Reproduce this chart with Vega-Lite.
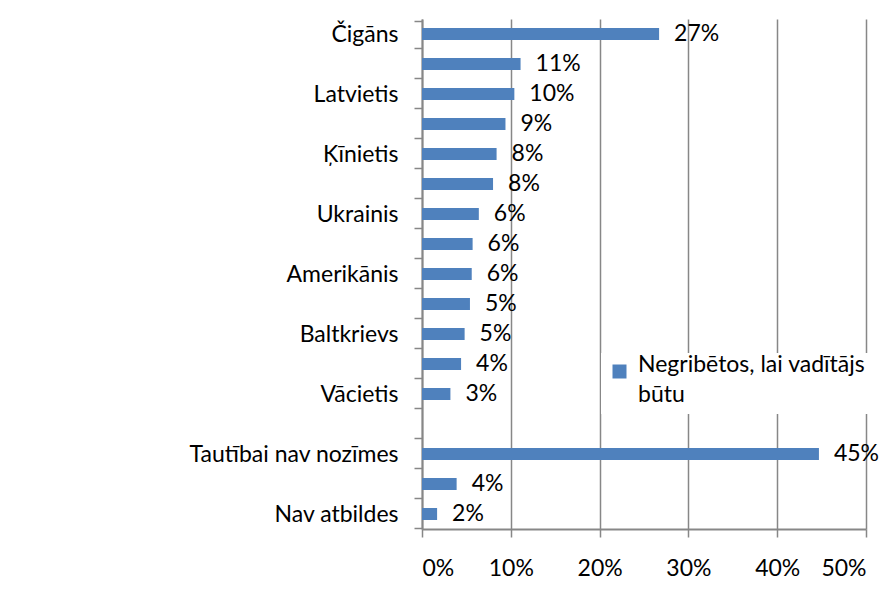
{
  "$schema": "https://vega.github.io/schema/vega-lite/v6.json",
  "autosize": "none",
  "width": 444,
  "height": 510,
  "padding": {"left": 422, "top": 19, "right": 24, "bottom": 82},
  "background": "white",
  "data": {
    "values": [
      {"kategorija": "Čigāns", "vertiba": 0.267, "nr": 0},
      {"kategorija": "Krievs", "vertiba": 0.111, "nr": 1},
      {"kategorija": "Latvietis", "vertiba": 0.104, "nr": 2},
      {"kategorija": "Lietuvietis", "vertiba": 0.094, "nr": 3},
      {"kategorija": "Ķīnietis", "vertiba": 0.084, "nr": 4},
      {"kategorija": "Igaunis", "vertiba": 0.080, "nr": 5},
      {"kategorija": "Ukrainis", "vertiba": 0.064, "nr": 6},
      {"kategorija": "Polis", "vertiba": 0.057, "nr": 7},
      {"kategorija": "Amerikānis", "vertiba": 0.056, "nr": 8},
      {"kategorija": "Ebrejs", "vertiba": 0.054, "nr": 9},
      {"kategorija": "Baltkrievs", "vertiba": 0.048, "nr": 10},
      {"kategorija": "Zviedrs", "vertiba": 0.044, "nr": 11},
      {"kategorija": "Vācietis", "vertiba": 0.032, "nr": 12},
      {"kategorija": "", "vertiba": null, "nr": 13},
      {"kategorija": "Tautībai nav nozīmes", "vertiba": 0.447, "nr": 14},
      {"kategorija": "Grūti pateikt", "vertiba": 0.039, "nr": 15},
      {"kategorija": "Nav atbildes", "vertiba": 0.017, "nr": 16}
    ]
  },
  "encoding": {
    "y": {
      "field": "kategorija",
      "type": "nominal",
      "scale": {"domain": ["Čigāns", "Krievs", "Latvietis", "Lietuvietis", "Ķīnietis", "Igaunis", "Ukrainis", "Polis", "Amerikānis", "Ebrejs", "Baltkrievs", "Zviedrs", "Vācietis", "", "Tautībai nav nozīmes", "Grūti pateikt", "Nav atbildes"]},
      "axis": {
        "title": null,
        "tickBand": "extent",
        "tickSize": 8,
        "tickColor": "#878787",
        "tickWidth": 1.5,
        "domainColor": "#878787",
        "domainWidth": 2,
        "labelPadding": 16,
        "labelFont": "Lato",
        "labelFontSize": 23,
        "labelColor": "#000000",
        "labelLimit": 400,
        "labelExpr": "indexof(['Krievs','Lietuvietis','Igaunis','Polis','Ebrejs','Zviedrs','Grūti pateikt'], datum.label) >= 0 ? '' : datum.label"
      }
    },
    "x": {
      "field": "vertiba",
      "type": "quantitative",
      "scale": {"domain": [0, 0.5], "nice": false},
      "axis": {
        "title": null,
        "values": [0, 0.1, 0.2, 0.3, 0.4, 0.5],
        "format": ".0%",
        "grid": true,
        "gridColor": "#878787",
        "gridWidth": 1.5,
        "tickSize": 8,
        "tickColor": "#878787",
        "tickWidth": 1.5,
        "domainColor": "#878787",
        "domainWidth": 2,
        "labelPadding": 20,
        "labelFont": "Lato",
        "labelFontSize": 23,
        "labelColor": "#000000"
      }
    }
  },
  "layer": [
    {
      "mark": {"type": "bar", "size": 12},
      "encoding": {
        "color": {
          "datum": "Negribētos, lai vadītājs būtu",
          "type": "nominal",
          "scale": {"range": ["#4F81BD"]},
          "legend": {
            "title": null,
            "orient": "none",
            "legendX": 179,
            "legendY": 334,
            "padding": 7,
            "fillColor": "white",
            "strokeColor": null,
            "symbolType": "square",
            "symbolSize": 196,
            "symbolStrokeWidth": 0,
            "symbolOpacity": 1,
            "labelFont": "Lato",
            "labelFontSize": 23,
            "labelColor": "#000000",
            "labelBaseline": "alphabetic",
            "labelOffset": 7,
            "labelLimit": 400,
            "labelExpr": "['Negribētos, lai vadītājs', 'būtu']"
          }
        }
      }
    },
    {
      "transform": [{"filter": "isValid(datum.vertiba)"}],
      "mark": {"type": "text", "align": "left", "baseline": "middle", "dx": 15, "font": "Lato", "fontSize": 23, "color": "#000000"},
      "encoding": {
        "text": {"field": "vertiba", "type": "quantitative", "format": ".0%"}
      }
    }
  ],
  "config": {
    "view": {"stroke": null},
    "style": {"guide-label": {"lineHeight": 30}}
  }
}
